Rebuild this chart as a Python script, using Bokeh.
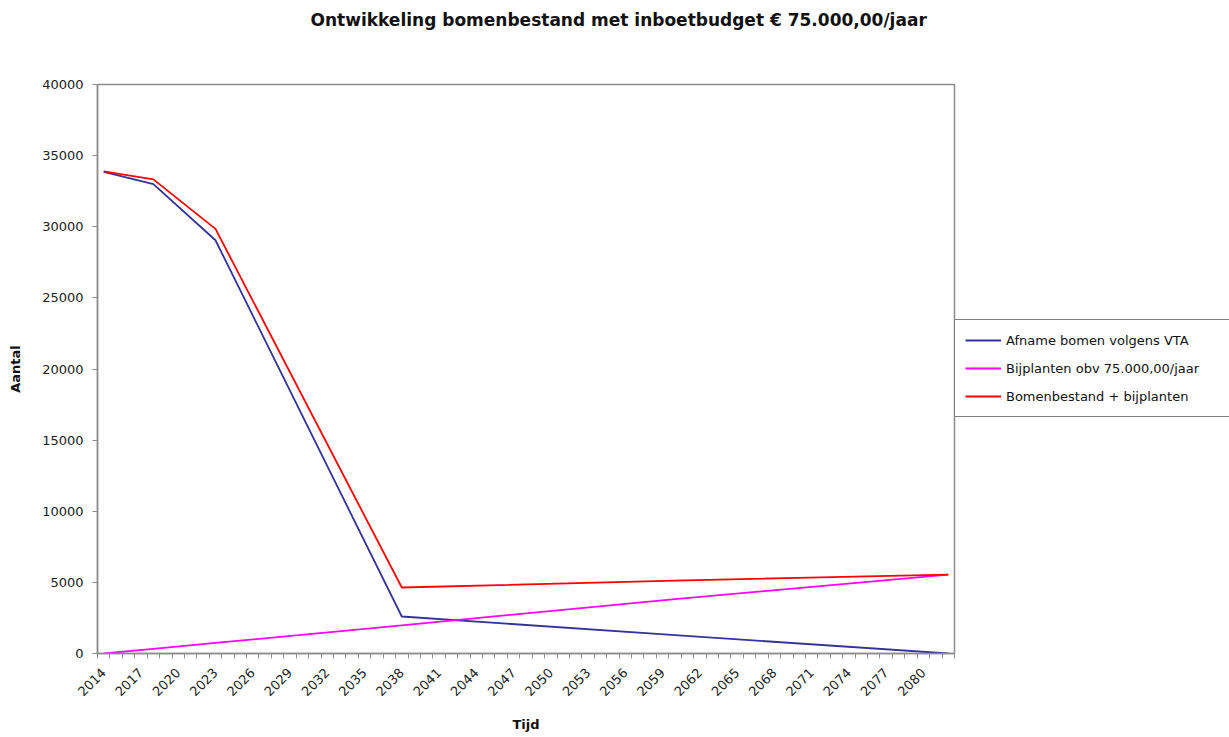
import math
from bokeh.plotting import figure
from bokeh.models import FixedTicker, Legend, LegendItem, Range1d, NumeralTickFormatter, Title
from bokeh.embed import file_html
from bokeh.resources import INLINE

# ---- data ----
years = [2014, 2018, 2023, 2038, 2060, 2082]
afname = [33850, 33000, 29050, 2600, 1290, 0]          # Afname bomen volgens VTA
bijplanten = [0, 330, 740, 1980, 3820, 5550]          # Bijplanten obv 75.000,00/jaar
bestand = [33900, 33330, 29850, 4640, 5120, 5550]     # Bomenbestand + bijplanten
tick_years = list(range(2014, 2081, 3))
all_years = list(range(2014, 2083))
y_ticks = list(range(0, 40001, 5000))

FONT = "DejaVu Sans"

p = figure(frame_width=857, frame_height=569, output_backend="svg", toolbar_location=None,
           x_range=Range1d(all_years[0] - 0.5, all_years[-1] + 0.5),
           y_range=Range1d(0, 40000),
           min_border_left=97, min_border_right=0, min_border_top=84, min_border_bottom=84,
           background_fill_color="white", border_fill_color="white")

# spacer between the frame and the title (pushes the title to the top of the canvas)
p.add_layout(Title(text=" ", text_font_size="48px", standoff=0), "above")

p.title.text = "Ontwikkeling bomenbestand met inboetbudget € 75.000,00/jaar"
p.title.text_font = FONT
p.title.text_font_size = "17px"
p.title.text_font_style = "bold"
p.title.text_color = "#111111"
p.title.align = "left"
p.title.offset = 213
p.title.standoff = 0

p.xgrid.visible = False
p.ygrid.visible = False
p.outline_line_color = "#8c8c8c"
p.outline_line_width = 1.5

r1 = p.line(years, afname, line_color="#333399", line_width=1.8)
r2 = p.line(years, bijplanten, line_color="#ff00ff", line_width=1.8)
r3 = p.line(years, bestand, line_color="#ff0000", line_width=1.8)

# x axis
xa = p.xaxis[0]
xa.ticker = FixedTicker(ticks=tick_years, minor_ticks=[y - 0.5 for y in all_years] + [all_years[-1] + 0.5])
xa.major_tick_out = 0
xa.major_tick_in = 0
xa.minor_tick_out = 5
xa.minor_tick_in = 0
xa.minor_tick_line_color = "#8c8c8c"
xa.axis_line_color = "#8c8c8c"
xa.axis_line_width = 1.5
xa.major_label_orientation = math.pi / 4
xa.major_label_standoff = 12
xa.major_label_text_font = FONT
xa.major_label_text_font_size = "13px"
xa.major_label_text_color = "#222222"
xa.axis_label = "Tijd"
xa.axis_label_text_font = FONT
xa.axis_label_text_font_size = "13px"
xa.axis_label_text_font_style = "bold"
xa.axis_label_text_color = "#111111"
xa.axis_label_standoff = 14

# y axis
ya = p.yaxis[0]
ya.ticker = FixedTicker(ticks=y_ticks, minor_ticks=[])
ya.formatter = NumeralTickFormatter(format="0")
ya.major_tick_out = 5
ya.major_tick_in = 0
ya.major_tick_line_color = "#8c8c8c"
ya.axis_line_color = "#8c8c8c"
ya.axis_line_width = 1.5
ya.major_label_standoff = 9
ya.major_label_text_font = FONT
ya.major_label_text_font_size = "13px"
ya.major_label_text_color = "#222222"
ya.axis_label = "Aantal"
ya.axis_label_text_font = FONT
ya.axis_label_text_font_size = "13px"
ya.axis_label_text_font_style = "bold"
ya.axis_label_text_color = "#111111"
ya.axis_label_standoff = 16

legend = Legend(items=[
    LegendItem(label="Afname bomen volgens VTA", renderers=[r1]),
    LegendItem(label="Bijplanten obv 75.000,00/jaar", renderers=[r2]),
    LegendItem(label="Bomenbestand + bijplanten", renderers=[r3]),
], location=(0, 236))
legend.label_text_font = FONT
legend.label_text_font_size = "13px"
legend.label_text_color = "#111111"
legend.glyph_width = 36
legend.glyph_height = 20
legend.label_height = 20
legend.label_width = 214
legend.label_standoff = 5
legend.spacing = 8
legend.padding = 10
legend.margin = 0
legend.border_line_color = "black"
legend.border_line_width = 1
legend.background_fill_color = "white"
legend.background_fill_alpha = 1.0
p.add_layout(legend, "right")

open("out.html", "w").write(file_html(p, INLINE))
